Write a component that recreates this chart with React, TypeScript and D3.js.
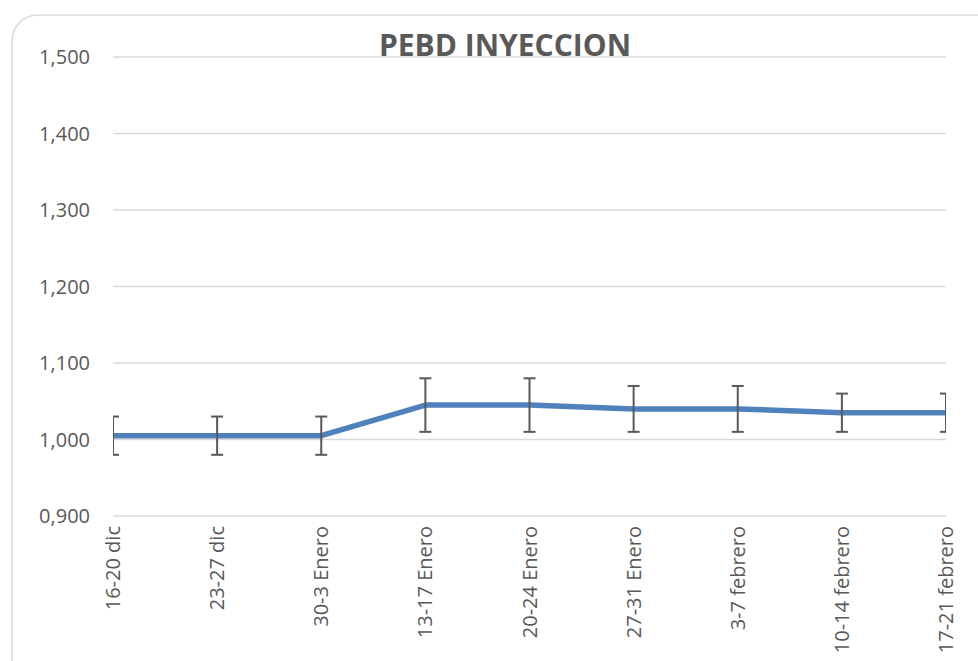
import React, { useEffect, useRef } from 'react';
import * as d3 from 'd3';

// chart data
const categories = [
  '16-20 dic', '23-27 dic', '30-3 Enero', '13-17 Enero', '20-24 Enero',
  '27-31 Enero', '3-7 febrero', '10-14 febrero', '17-21 febrero'
];
const prices = [1005, 1005, 1005, 1045, 1045, 1040, 1040, 1035, 1035];
const errors = [25, 25, 25, 35, 35, 30, 30, 25, 25];
const yTicks = [900, 1000, 1100, 1200, 1300, 1400, 1500];
const title = 'PEBD INYECCION';

const App = () => {
  const ref = useRef<SVGSVGElement>(null);

  useEffect(() => {
    drawChart();
  }, []);

  const drawChart = () => {
    const width = 978;
    const height = 661;
    const svg = d3.select(ref.current);
    svg.selectAll('*').remove();

    const fontFamily = '"Open Sans", sans-serif';
    const textColor = '#595959';

    // outer frame (rounded, runs off the page)
    svg.append('rect')
      .attr('x', 12).attr('y', 15)
      .attr('width', 990).attr('height', 700)
      .attr('rx', 26)
      .attr('fill', '#fff')
      .attr('stroke', '#d9d9d9')
      .attr('stroke-width', 1.5);

    const margin = { left: 113, right: 32, top: 57, bottom: 145 };
    const x = d3.scalePoint<string>()
      .domain(categories)
      .range([margin.left, width - margin.right]);
    const y = d3.scaleLinear()
      .domain([900, 1500])
      .range([height - margin.bottom, margin.top]);

    // grid lines
    svg.append('g')
      .selectAll('line')
      .data(yTicks)
      .enter()
      .append('line')
      .attr('x1', margin.left)
      .attr('x2', width - margin.right)
      .attr('y1', d => y(d))
      .attr('y2', d => y(d))
      .attr('stroke', '#d9d9d9')
      .attr('stroke-width', 1.5);

    // y labels (0,900 then 1,000 ...)
    svg.append('g')
      .selectAll('text')
      .data(yTicks)
      .enter()
      .append('text')
      .attr('x', 90)
      .attr('y', d => y(d))
      .attr('dy', '0.35em')
      .attr('text-anchor', 'end')
      .attr('font-family', fontFamily)
      .attr('font-size', 20)
      .attr('fill', textColor)
      .text(d => (d < 1000 ? '0,' + d : d3.format(',')(d)));

    // x labels, rotated
    svg.append('g')
      .selectAll('text')
      .data(categories)
      .enter()
      .append('text')
      .attr('transform', d => `translate(${x(d)},${height - margin.bottom + 10}) rotate(-90)`)
      .attr('dy', '0.35em')
      .attr('text-anchor', 'end')
      .attr('font-family', fontFamily)
      .attr('font-size', 20)
      .attr('fill', textColor)
      .text(d => d);

    // clip to plot area
    svg.append('clipPath')
      .attr('id', 'plot-clip')
      .append('rect')
      .attr('x', margin.left)
      .attr('y', 0)
      .attr('width', width - margin.right - margin.left)
      .attr('height', height);

    // series line
    const line = d3.line<number>()
      .x((d, i) => x(categories[i]) as number)
      .y(d => y(d));
    svg.append('path')
      .datum(prices)
      .attr('d', line)
      .attr('fill', 'none')
      .attr('stroke', '#4f81bd')
      .attr('stroke-width', 5.5)
      .attr('stroke-linejoin', 'round');

    // error bars
    const bars = svg.append('g')
      .attr('clip-path', 'url(#plot-clip)')
      .selectAll('g')
      .data(prices)
      .enter()
      .append('g');
    const cap = 6;
    bars.append('line')
      .attr('x1', (d, i) => x(categories[i]) as number)
      .attr('x2', (d, i) => x(categories[i]) as number)
      .attr('y1', (d, i) => y(d + errors[i]))
      .attr('y2', (d, i) => y(d - errors[i]));
    bars.append('line')
      .attr('x1', (d, i) => (x(categories[i]) as number) - cap)
      .attr('x2', (d, i) => (x(categories[i]) as number) + cap)
      .attr('y1', (d, i) => y(d + errors[i]))
      .attr('y2', (d, i) => y(d + errors[i]));
    bars.append('line')
      .attr('x1', (d, i) => (x(categories[i]) as number) - cap)
      .attr('x2', (d, i) => (x(categories[i]) as number) + cap)
      .attr('y1', (d, i) => y(d - errors[i]))
      .attr('y2', (d, i) => y(d - errors[i]));
    bars.selectAll('line')
      .attr('stroke', '#595959')
      .attr('stroke-width', 2);

    // title
    svg.append('text')
      .attr('x', 505)
      .attr('y', 56)
      .attr('text-anchor', 'middle')
      .attr('font-family', fontFamily)
      .attr('font-size', 30)
      .attr('font-weight', 'bold')
      .attr('fill', textColor)
      .text(title);
  };

  return (
    <svg
      ref={ref}
      width={978}
      height={661}
      style={{ position: 'absolute', left: 0, top: 0 }}
    />
  );
};

export default App;
